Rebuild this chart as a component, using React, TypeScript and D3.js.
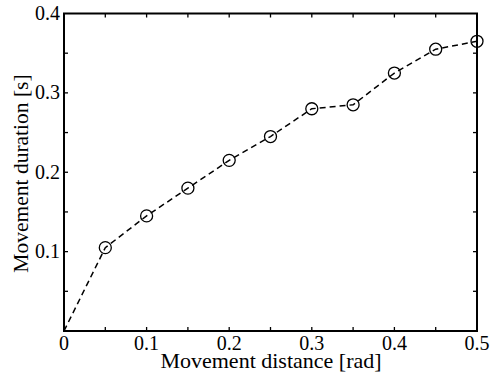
import React from "react";
import * as d3 from "d3";

const xValues = [0, 0.05, 0.1, 0.15, 0.2, 0.25, 0.3, 0.35, 0.4, 0.45, 0.5];
const yValues = [0, 0.105, 0.145, 0.18, 0.215, 0.245, 0.28, 0.285, 0.325, 0.355, 0.365];
const xTickLabels = [0, 0.1, 0.2, 0.3, 0.4, 0.5];
const yTickLabels = [0.1, 0.2, 0.3, 0.4];
const xMinorTicks = [0.05, 0.1, 0.15, 0.2, 0.25, 0.3, 0.35, 0.4, 0.45];
const yMinorTicks = [0.05, 0.1, 0.15, 0.2, 0.25, 0.3, 0.35];

const W = 499, H = 376;
const L = 64, R = 477, T = 13.5, B = 331;
const FONT = "Liberation Serif";

export default function App() {
  const x = d3.scaleLinear().domain([0, 0.5]).range([L, R]);
  const y = d3.scaleLinear().domain([0, 0.4]).range([B, T]);
  const pts = xValues.map((v, i) => [v, yValues[i]] as [number, number]);
  const line = d3.line<[number, number]>().x(d => x(d[0])).y(d => y(d[1]))(pts) || "";
  const tl = 4;
  return (
    <svg width={W} height={H} style={{ position: "absolute", left: 0, top: 0, background: "#fff" }}>
      <rect x={0} y={0} width={W} height={H} fill="#fff" />
      <path d={line} fill="none" stroke="#000" strokeWidth={1.5} strokeDasharray="6,4" />
      {pts.slice(1).map((p, i) => (
        <circle key={i} cx={x(p[0])} cy={y(p[1])} r={6} fill="none" stroke="#000" strokeWidth={1.3} />
      ))}
      {xMinorTicks.map((t, i) => (
        <g key={"xt" + i}>
          <line x1={x(t)} x2={x(t)} y1={B} y2={B - tl} stroke="#000" strokeWidth={1.3} />
          <line x1={x(t)} x2={x(t)} y1={T} y2={T + tl} stroke="#000" strokeWidth={1.3} />
        </g>
      ))}
      {yMinorTicks.map((t, i) => (
        <g key={"yt" + i}>
          <line x1={L} x2={L + tl} y1={y(t)} y2={y(t)} stroke="#000" strokeWidth={1.3} />
          <line x1={R} x2={R - tl} y1={y(t)} y2={y(t)} stroke="#000" strokeWidth={1.3} />
        </g>
      ))}
      <rect x={L} y={T} width={R - L} height={B - T} fill="none" stroke="#000" strokeWidth={2} />
      {xTickLabels.map((t, i) => (
        <text key={"xl" + i} x={x(t)} y={350} textAnchor="middle" fontFamily={FONT} fontSize={20}>{String(t)}</text>
      ))}
      {yTickLabels.map((t, i) => (
        <text key={"yl" + i} x={L - 4} y={y(t) + 6.5} textAnchor="end" fontFamily={FONT} fontSize={20}>{String(t)}</text>
      ))}
      <text x={271} y={368} textAnchor="middle" fontFamily={FONT} fontSize={22}>Movement distance [rad]</text>
      <text transform={`translate(28,173.5) rotate(-90)`} textAnchor="middle" fontFamily={FONT} fontSize={21.5}>Movement duration [s]</text>
    </svg>
  );
}
